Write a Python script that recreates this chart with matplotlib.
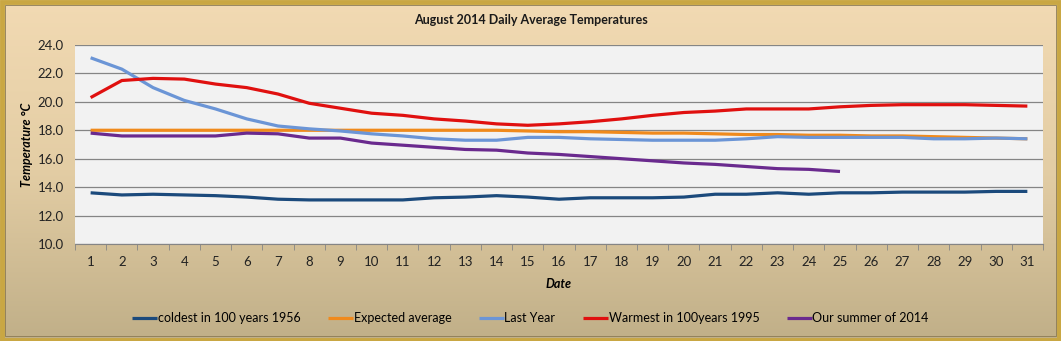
import numpy as np
import matplotlib.pyplot as plt
from matplotlib.patches import Rectangle
from matplotlib.colors import LinearSegmentedColormap

days = list(range(1, 32))

coldest_1956 = [13.6, 13.45, 13.5, 13.45, 13.4, 13.3, 13.15, 13.1, 13.1, 13.1, 13.1,
                13.25, 13.3, 13.4, 13.3, 13.15, 13.25, 13.25, 13.25, 13.3, 13.5,
                13.5, 13.6, 13.5, 13.6, 13.6, 13.65, 13.65, 13.65, 13.7, 13.7]
expected_avg = [18.0, 18.0, 18.0, 18.0, 18.0, 18.0, 18.0, 18.0, 18.0, 18.0, 18.0,
                18.0, 18.0, 18.0, 17.95, 17.9, 17.9, 17.85, 17.8, 17.8, 17.75,
                17.7, 17.7, 17.65, 17.65, 17.6, 17.6, 17.55, 17.5, 17.45, 17.4]
last_year = [23.1, 22.3, 21.0, 20.1, 19.5, 18.8, 18.3, 18.1, 17.95, 17.75, 17.6,
             17.4, 17.3, 17.3, 17.5, 17.5, 17.4, 17.35, 17.3, 17.3, 17.3,
             17.4, 17.55, 17.5, 17.5, 17.5, 17.5, 17.4, 17.4, 17.45, 17.4]
warmest_1995 = [20.3, 21.5, 21.65, 21.6, 21.25, 21.0, 20.55, 19.9, 19.55, 19.2, 19.05,
                18.8, 18.65, 18.45, 18.35, 18.45, 18.6, 18.8, 19.05, 19.25, 19.35,
                19.5, 19.5, 19.5, 19.65, 19.75, 19.8, 19.8, 19.8, 19.75, 19.7]
summer_2014 = [17.8, 17.6, 17.6, 17.6, 17.6, 17.8, 17.75, 17.45, 17.45, 17.1, 16.95,
               16.8, 16.65, 16.6, 16.4, 16.3, 16.15, 16.0, 15.85, 15.7, 15.6,
               15.45, 15.3, 15.25, 15.1]

series = [
    ('coldest in 100 years 1956', coldest_1956, '#1B4A7C'),
    ('Expected average', expected_avg, '#F08A1C'),
    ('Last Year', last_year, '#6B95D6'),
    ('Warmest in 100years 1995', warmest_1995, '#E0100F'),
    ('Our summer of 2014', summer_2014, '#6A2A8E'),
]

plt.rcParams['font.family'] = ['Lato', 'DejaVu Sans']

fig = plt.figure(figsize=(10.61, 3.41), dpi=100)

# beige gradient background behind everything
bg = fig.add_axes([0, 0, 1, 1], zorder=-10)
grad = np.linspace(0, 1, 256).reshape(-1, 1)
cmap = LinearSegmentedColormap.from_list('bg', ['#F2DAB3', '#E3CDA4', '#C0AF88'])
bg.imshow(grad, aspect='auto', cmap=cmap, extent=[0, 1, 0, 1], origin='upper')
bg.set_xlim(0, 1)
bg.set_ylim(0, 1)
bg.axis('off')
bg.add_patch(Rectangle((0.0015, 0.004), 0.997, 0.991, fill=False,
                       edgecolor='#C9A743', linewidth=3.5, transform=bg.transAxes))
bg.add_patch(Rectangle((0.0045, 0.0135), 0.991, 0.973, fill=False,
                       edgecolor='#8A7A55', linewidth=0.6, transform=bg.transAxes))

ax = fig.add_axes([0.0707, 0.2845, 0.9123, 0.5836])
ax.set_facecolor('#F2F2F2')

for label, values, color in series:
    ax.plot(days[:len(values)], values, color=color, linewidth=2.3,
            label=label, solid_capstyle='butt')

ax.set_xlim(0.5, 31.5)
ax.set_ylim(10, 24)
ax.set_yticks(np.arange(10, 24.1, 2))
ax.set_yticklabels(['%.1f' % v for v in np.arange(10, 24.1, 2)])
ax.set_xticks(days)
ax.set_xticks(np.arange(0.5, 31.6, 1), minor=True)
ax.grid(axis='y', color='#858585', linewidth=0.9)
ax.set_axisbelow(True)

for side in ['top', 'right', 'left']:
    ax.spines[side].set_visible(False)
ax.spines['bottom'].set_color('#858585')
ax.tick_params(axis='x', which='major', length=0, pad=9, labelsize=9.5, colors='#222222')
ax.tick_params(axis='x', which='minor', length=4, color='#858585', direction='out')
ax.tick_params(axis='y', length=0, pad=8, labelsize=9.5, colors='#222222')

ax.set_xlabel('Date', fontsize=9, fontweight='bold', fontstyle='italic', labelpad=7)
ax.set_ylabel('Temperature \u00b0C', fontsize=9, fontweight='bold', fontstyle='italic',
              labelpad=3)

fig.text(0.5, 0.94, 'August 2014 Daily Average Temperatures', ha='center', va='center',
         fontsize=9, fontweight='bold', color='#1A1A1A')

fig.legend(loc='center', bbox_to_anchor=(0.5, 0.067), ncol=5, frameon=False,
           fontsize=9, handlelength=2.0, handletextpad=0.05, columnspacing=2.2)

fig.savefig('out.png', dpi=100)
